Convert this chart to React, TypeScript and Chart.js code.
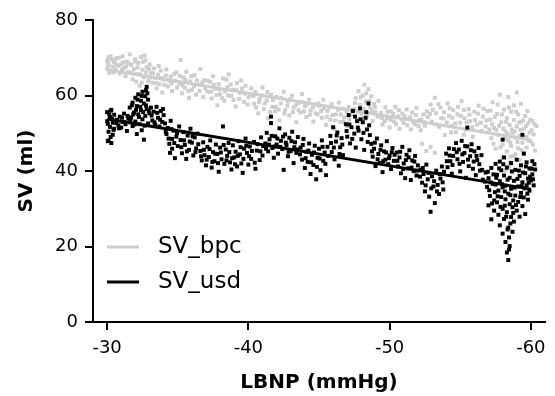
import React, { useEffect, useRef } from 'react';
import { Chart, registerables } from 'chart.js';

Chart.register(...registerables);

const lbnpTicks = [-30, -40, -50, -60];
const svTicks = [0, 20, 40, 60, 80];
const seriesNames = ['SV_bpc', 'SV_usd'];
const fitLbnp = [-30, -60];
const fitBpc = [66.8, 48.2];
const fitUsd = [53.8, 35.2];

// SV_bpc samples [LBNP, SV]
const bpcPoints: [number, number][] = [
  [-30.0,69.2],[-30.0,67.1],[-30.1,70.1],[-30.1,68.0],[-30.2,66.5],[-30.3,69.5],[-30.4,67.6],[-30.5,68.8],[-30.6,66.9],[-30.7,69.9],[-30.8,67.9],[-30.9,65.8],[-31.0,68.4],
  [-30.05,68.6],[-30.25,70.4],[-30.45,66.1],[-30.65,68.2],[-30.85,70.0],[-30.15,66.0],[-30.55,69.6],
  [-31.1,70.4],[-31.2,67.3],[-31.3,65.1],[-31.4,69.0],[-31.5,66.2],[-31.6,70.9],[-31.7,68.1],[-31.8,64.3],[-31.9,67.0],[-32.0,69.6],[-32.1,65.7],[-32.2,68.6],[-32.3,62.6],[-32.4,70.2],[-32.5,66.8],[-32.6,64.9],[-32.7,69.3],[-32.8,67.5],[-32.9,63.8],[-33.0,68.2],
  [-31.05,66.9],[-31.15,68.8],[-31.35,67.7],[-31.55,68.5],[-31.75,66.0],[-31.95,69.0],[-32.15,67.4],[-32.35,65.6],[-32.55,68.9],[-32.75,66.1],[-32.95,67.0],[-32.05,63.7],[-32.45,63.4],[-32.65,70.6],
  [-33.1,66.0],[-33.2,63.4],[-33.3,67.2],[-33.4,64.7],[-33.5,61.9],[-33.6,65.5],[-33.7,63.0],[-33.8,66.6],[-33.9,60.8],[-34.0,64.2],[-34.2,66.9],[-34.3,62.4],[-34.5,65.0],[-34.6,61.2],[-34.8,63.9],[-34.9,66.1],
  [-33.05,64.8],[-33.25,65.9],[-33.45,63.3],[-33.65,67.8],[-33.85,64.6],[-34.05,62.8],[-34.15,65.3],[-34.35,64.0],[-34.55,63.2],[-34.75,65.7],[-34.95,62.1],
  [-35.1,63.1],[-35.2,69.4],[-35.3,60.6],[-35.4,64.8],[-35.5,62.0],[-35.6,66.3],[-35.8,59.4],[-35.9,63.7],[-36.0,61.5],[-36.2,65.4],[-36.3,60.2],[-36.5,62.9],[-36.6,67.0],[-36.8,59.6],[-36.9,64.1],[-37.1,61.0],
  [-35.15,65.2],[-35.35,62.7],[-35.55,64.1],[-35.75,61.2],[-35.95,65.1],[-36.15,62.5],[-36.35,64.0],[-36.55,61.2],[-36.75,63.5],[-36.95,61.9],[-37.15,63.9],
  [-37.3,63.6],[-37.4,59.2],[-37.5,65.1],[-37.6,61.8],[-37.8,57.4],[-37.9,63.0],[-38.0,60.3],[-38.2,64.5],[-38.3,58.6],[-38.5,62.2],[-38.6,65.6],[-38.8,59.9],[-38.9,61.5],[-39.1,57.1],[-39.2,63.3],[-39.4,60.7],[-39.5,64.0],[-39.7,58.3],[-39.8,62.6],[-40.0,59.5],[-40.2,61.9],
  [-37.35,61.0],[-37.55,62.8],[-37.75,60.1],[-37.95,61.6],[-38.15,59.3],[-38.35,61.1],[-38.55,60.0],[-38.75,62.9],[-38.95,58.8],[-39.15,61.4],[-39.35,59.1],[-39.55,61.8],[-39.75,60.5],[-39.95,57.6],[-40.15,60.1],[-38.45,64.2],
  [-40.4,57.8],[-40.5,60.9],[-40.7,55.3],[-40.8,59.1],[-41.0,62.1],[-41.1,56.4],[-41.3,58.7],[-41.4,54.0],[-41.6,60.2],[-41.7,57.0],[-41.9,55.8],[-42.0,59.6],[-42.2,53.4],[-42.3,57.9],[-42.5,61.0],[-42.6,56.1],[-42.8,58.4],[-42.9,54.7],[-43.1,59.9],[-43.2,56.8],[-43.4,52.9],[-43.5,58.0],[-43.7,55.5],[-43.8,60.4],[-44.0,57.2],[-44.1,54.3],[-44.3,58.9],[-44.4,56.0],[-44.6,53.1],[-44.7,57.6],[-44.9,55.0],
  [-40.35,59.9],[-40.55,56.8],[-40.75,58.2],[-40.95,60.0],[-41.15,57.9],[-41.35,60.9],[-41.55,55.6],[-41.75,58.8],[-41.95,57.0],[-42.15,56.3],[-42.35,59.4],[-42.55,55.2],[-42.75,57.3],[-42.95,59.0],[-43.15,55.6],[-43.35,57.4],[-43.55,56.1],[-43.75,58.3],[-43.95,55.8],[-44.15,57.6],[-44.35,54.9],[-44.55,56.8],[-44.75,55.3],[-44.95,57.9],
  [-45.0,57.3],[-45.2,54.1],[-45.3,58.9],[-45.5,52.2],[-45.6,55.9],[-45.8,53.6],[-45.9,57.7],[-46.1,51.2],[-46.2,55.0],[-46.4,58.1],[-46.5,53.0],[-46.7,56.5],[-46.8,54.2],[-47.0,51.9],[-47.1,57.0],[-47.3,54.9],
  [-45.15,55.9],[-45.35,56.6],[-45.55,54.4],[-45.75,56.9],[-45.95,54.8],[-46.15,53.4],[-46.35,56.2],[-46.55,55.0],[-46.75,53.1],[-46.95,55.8],[-47.15,53.6],[-47.35,56.3],
  [-47.5,56.4],[-47.6,59.3],[-47.7,53.8],[-47.8,61.2],[-47.9,57.5],[-48.0,55.1],[-48.1,60.0],[-48.2,62.9],[-48.3,58.4],[-48.4,54.6],[-48.5,61.7],[-48.6,56.9],[-48.7,59.8],[-48.8,53.2],[-48.9,57.8],[-49.0,55.6],[-49.2,58.6],
  [-47.55,58.0],[-47.75,55.7],[-47.95,59.5],[-48.15,56.5],[-48.35,60.6],[-48.55,58.6],[-48.75,55.9],[-48.95,56.9],[-49.15,54.4],[-48.25,53.7],
  [-49.4,55.4],[-49.5,52.3],[-49.7,56.9],[-49.8,54.0],[-50.0,51.5],[-50.1,55.8],[-50.3,53.1],[-50.4,57.0],[-50.6,54.5],[-50.7,51.2],[-50.9,55.2],[-51.0,52.7],[-51.2,56.3],[-51.3,53.8],[-51.5,51.0],[-51.6,55.5],[-51.8,52.4],[-51.9,56.7],[-52.1,53.5],[-52.2,50.8],[-52.4,55.0],[-52.5,52.0],[-52.7,54.3],
  [-49.45,54.0],[-49.65,53.2],[-49.85,55.7],[-50.05,53.6],[-50.25,55.1],[-50.45,52.4],[-50.65,56.1],[-50.85,53.7],[-51.05,54.6],[-51.25,52.1],[-51.45,54.2],[-51.65,53.0],[-51.85,54.8],[-52.05,51.9],[-52.25,53.6],[-52.45,52.9],[-52.65,55.8],
  [-52.3,47.2],[-52.6,45.3],[-52.9,46.4],[-53.2,44.8],
  [-52.9,57.6],[-53.0,53.1],[-53.2,59.4],[-53.3,55.3],[-53.5,51.7],[-53.6,56.8],[-53.8,53.9],[-53.9,49.5],[-54.1,57.9],[-54.2,54.6],[-54.4,52.0],[-54.5,56.1],[-54.7,50.3],[-54.8,55.0],[-55.0,52.8],[-55.1,58.5],[-55.3,54.0],[-55.4,50.9],[-55.6,56.4],[-55.7,53.2],[-55.9,49.1],[-56.0,55.7],[-56.2,52.3],[-56.3,57.3],[-56.5,50.6],[-56.6,54.4],[-56.8,51.8],[-56.9,55.9],
  [-52.85,55.1],[-53.05,56.2],[-53.25,52.3],[-53.45,57.7],[-53.65,54.0],[-53.85,55.6],[-54.05,52.8],[-54.25,56.6],[-54.45,54.1],[-54.65,52.6],[-54.85,57.0],[-55.05,54.6],[-55.25,56.2],[-55.45,52.9],[-55.65,54.9],[-55.85,51.6],[-56.05,53.5],[-56.25,55.2],[-56.45,52.8],[-56.65,56.5],[-56.85,53.4],[-54.35,50.2],[-55.25,49.6],
  [-57.1,53.6],[-57.2,48.7],[-57.3,58.2],[-57.4,51.4],[-57.5,45.9],[-57.6,55.1],[-57.7,49.6],[-57.8,60.2],[-57.9,52.9],[-58.0,47.0],[-58.0,43.5],[-58.1,56.3],[-58.2,50.5],[-58.2,40.1],[-58.3,54.0],[-58.3,45.2],[-58.4,59.6],[-58.4,48.1],[-58.5,52.2],[-58.5,42.3],[-58.6,55.7],[-58.6,46.6],[-58.7,50.0],[-58.7,39.6],[-58.8,57.4],[-58.8,53.5],[-58.9,44.4],[-58.9,48.9],[-59.0,51.8],[-59.0,60.8],[-59.1,46.0],[-59.1,55.0],[-59.2,49.3],[-59.2,42.9],[-59.3,53.0],[-59.3,57.8],[-59.4,47.5],[-59.5,51.1],[-59.5,44.7],[-59.6,54.6],[-59.7,49.0],[-59.7,46.2],[-59.8,52.6],[-59.9,50.2],[-60.0,47.8],[-60.1,53.3],[-60.2,49.7],[-60.3,45.4],[-60.4,51.9],
  [-57.05,51.0],[-57.15,56.0],[-57.25,52.4],[-57.35,47.2],[-57.45,54.3],[-57.55,50.9],[-57.65,57.6],[-57.75,52.0],[-57.85,46.3],[-57.95,55.0],[-58.05,51.2],[-58.15,48.6],[-58.25,53.0],[-58.35,49.9],[-58.45,56.8],[-58.55,47.5],[-58.65,51.0],[-58.75,44.0],[-58.85,50.5],[-58.95,55.7],[-59.05,47.7],[-59.15,52.8],[-59.25,50.9],[-59.35,45.5],[-59.45,53.4],[-59.55,49.0],[-59.65,51.9],[-59.75,55.9],[-59.85,48.0],[-59.95,53.6],[-60.05,50.8],[-60.15,47.0],[-60.25,52.5],[-58.45,41.2],[-58.55,43.8],
];

// SV_usd samples [LBNP, SV]
const usdPoints: [number, number][] = [
  [-30.0,55.6],[-30.0,53.2],[-30.1,50.4],[-30.1,48.1],[-30.2,54.3],[-30.2,51.7],[-30.3,47.4],[-30.3,56.2],[-30.4,52.8],[-30.4,49.6],[-30.5,54.9],[-30.5,51.2],
  [-30.05,52.5],[-30.15,55.0],[-30.25,49.0],[-30.35,53.8],[-30.45,50.9],[-30.05,47.9],[-30.25,56.0],
  [-30.7,53.6],[-30.8,52.1],[-30.9,54.4],[-31.0,51.5],[-31.1,53.0],[-31.2,55.2],[-31.3,52.4],[-31.4,50.6],[-31.5,53.9],
  [-30.65,52.7],[-30.85,51.3],[-31.05,54.1],[-31.25,52.9],[-31.45,54.6],
  [-31.6,56.8],[-31.7,54.2],[-31.8,58.1],[-31.8,51.9],[-31.9,55.5],[-32.0,59.4],[-32.0,53.1],[-32.1,57.2],[-32.1,49.8],[-32.2,60.3],[-32.2,55.0],[-32.3,52.4],[-32.4,58.6],[-32.4,56.1],[-32.5,61.0],[-32.5,53.7],[-32.6,57.9],[-32.6,48.3],[-32.7,59.8],[-32.7,54.6],[-32.8,62.3],[-32.8,56.4],[-32.9,58.9],[-32.9,52.6],[-33.0,55.3],
  [-31.65,53.4],[-31.75,57.4],[-31.85,55.0],[-31.95,52.3],[-32.05,56.2],[-32.15,58.9],[-32.25,54.3],[-32.35,57.0],[-32.45,59.9],[-32.55,55.6],[-32.65,52.0],[-32.75,57.4],[-32.85,60.6],[-32.95,55.9],[-32.45,50.8],[-32.75,61.4],
  [-33.1,56.8],[-33.2,53.4],[-33.3,55.7],[-33.4,52.2],[-33.5,57.0],[-33.6,54.1],[-33.7,51.8],[-33.8,55.9],[-33.9,53.0],[-34.0,54.8],
  [-33.15,54.7],[-33.35,52.9],[-33.55,55.4],[-33.75,53.6],[-33.95,56.4],
  [-34.1,52.6],[-34.2,49.8],[-34.3,51.4],[-34.4,47.2],[-34.5,53.3],[-34.6,48.5],[-34.6,45.9],[-34.7,50.7],[-34.8,43.4],[-34.9,49.1],[-35.0,46.6],[-35.1,51.8],
  [-34.15,50.4],[-34.35,48.6],[-34.55,51.1],[-34.75,47.4],[-34.95,50.0],[-34.45,44.8],
  [-35.2,48.2],[-35.3,44.7],[-35.4,50.3],[-35.5,46.9],[-35.6,43.2],[-35.7,49.4],[-35.8,45.6],[-35.9,51.2],[-36.0,47.5],[-36.1,44.1],[-36.2,48.9],[-36.3,46.0],[-36.4,49.9],
  [-35.25,46.3],[-35.45,48.1],[-35.65,45.2],[-35.85,47.8],[-36.05,49.2],[-36.25,45.0],[-36.45,47.1],
  [-36.6,45.3],[-36.7,42.8],[-36.8,47.6],[-36.9,44.2],[-37.0,41.5],[-37.1,46.4],[-37.2,43.7],[-37.3,48.1],[-37.4,40.9],[-37.5,45.0],[-37.6,42.6],[-37.7,47.0],[-37.8,44.5],[-37.9,39.8],[-38.0,46.2],[-38.1,43.1],[-38.2,51.8],[-38.3,41.9],[-38.4,45.7],[-38.5,44.0],[-38.6,47.4],[-38.7,42.3],[-38.8,40.4],[-38.9,46.8],[-39.0,43.6],[-39.1,45.1],[-39.2,41.2],[-39.3,47.9],[-39.4,44.4],[-39.5,42.0],[-39.6,39.5],[-39.7,45.9],
  [-36.65,43.9],[-36.85,45.6],[-37.05,43.0],[-37.25,45.8],[-37.45,42.4],[-37.65,44.6],[-37.85,42.1],[-38.05,44.9],[-38.25,46.9],[-38.45,42.8],[-38.65,45.0],[-38.85,43.4],[-39.05,41.8],[-39.25,44.0],[-39.45,46.3],[-39.65,43.2],
  [-39.8,48.6],[-39.9,44.8],[-40.0,41.7],[-40.1,46.5],[-40.2,43.2],[-40.4,47.7],[-40.5,40.6],[-40.6,45.4],[-40.8,42.9],[-40.9,48.9],[-41.0,44.1],
  [-39.85,46.7],[-40.05,43.9],[-40.25,45.3],[-40.45,42.2],[-40.65,47.1],[-40.85,45.2],[-41.05,46.6],
  [-41.2,47.3],[-41.3,50.1],[-41.4,45.2],[-41.5,48.4],[-41.6,52.7],[-41.7,46.1],[-41.8,43.5],[-41.9,49.2],[-42.0,47.0],[-42.1,44.6],[-42.2,51.3],[-42.3,48.0],[-42.4,45.8],[-42.5,40.3],[-42.6,49.7],[-42.7,46.9],[-42.8,43.9],[-42.9,48.8],[-43.0,45.3],[-43.1,50.4],[-43.2,42.1],[-43.3,47.6],[-43.4,44.8],[-43.5,49.0],
  [-41.25,45.9],[-41.45,47.0],[-41.65,49.3],[-41.85,46.5],[-42.05,48.6],[-42.25,46.4],[-42.45,49.1],[-42.65,47.5],[-42.85,45.1],[-43.05,47.9],[-43.25,46.3],[-43.45,45.7],
  [-43.7,46.2],[-43.8,43.0],[-43.9,48.5],[-44.0,40.8],[-44.1,45.1],[-44.2,42.4],[-44.3,47.3],[-44.4,39.2],[-44.5,44.3],[-44.6,41.6],[-44.7,46.7],[-44.8,37.8],[-44.9,43.5],[-45.0,45.9],[-45.1,40.2],[-45.2,48.1],[-45.3,42.7],[-45.4,44.9],[-45.5,38.9],[-45.6,46.4],
  [-43.65,44.4],[-43.85,46.9],[-44.05,43.4],[-44.25,45.4],[-44.45,42.3],[-44.65,44.9],[-44.85,41.1],[-45.05,43.3],[-45.25,46.4],[-45.45,41.9],[-45.65,44.0],
  [-45.8,49.3],[-45.9,45.0],[-46.0,51.6],[-46.1,43.1],[-46.2,47.8],[-46.3,50.2],[-46.4,41.4],[-46.5,46.3],[-46.6,48.7],[-46.7,44.2],
  [-45.85,47.4],[-46.05,46.2],[-46.25,49.4],[-46.45,44.5],[-46.65,47.0],
  [-46.9,52.4],[-47.0,49.1],[-47.1,54.8],[-47.2,47.3],[-47.3,51.6],[-47.4,55.9],[-47.5,49.9],[-47.6,46.2],[-47.7,53.2],[-47.8,50.7],[-47.9,56.6],[-48.0,48.4],[-48.1,52.9],[-48.2,45.6],[-48.3,54.1],[-48.4,51.0],[-48.5,57.9],[-48.6,49.5],
  [-46.95,50.6],[-47.15,52.3],[-47.35,48.5],[-47.55,54.4],[-47.75,51.5],[-47.95,53.7],[-48.15,50.1],[-48.35,55.6],[-48.55,52.1],[-48.45,47.7],
  [-48.7,47.2],[-48.8,43.8],[-48.9,45.9],[-49.0,41.3],[-49.1,48.6],[-49.2,44.5],[-49.3,42.1],[-49.4,46.8],[-49.5,39.7],[-49.6,45.2],[-49.7,43.0],[-49.8,47.9],[-49.9,41.8],[-50.0,44.1],[-50.1,40.5],[-50.2,46.1],[-50.3,42.7],
  [-48.75,45.2],[-48.95,47.5],[-49.15,43.1],[-49.35,45.6],[-49.55,42.6],[-49.75,44.9],[-49.95,43.4],[-50.15,45.0],[-50.35,44.3],
  [-50.5,44.9],[-50.6,41.2],[-50.7,43.6],[-50.8,39.4],[-50.9,46.4],[-51.0,42.0],[-51.1,38.1],[-51.2,44.3],[-51.3,40.7],[-51.4,45.5],[-51.5,37.6],[-51.6,42.8],[-51.7,40.0],[-51.8,44.0],[-51.9,38.8],[-52.0,41.5],
  [-50.55,42.7],[-50.75,45.1],[-50.95,40.5],[-51.15,42.9],[-51.35,43.6],[-51.55,40.9],[-51.75,42.5],[-51.95,40.1],
  [-52.2,40.4],[-52.3,36.9],[-52.4,39.2],[-52.5,34.6],[-52.6,41.7],[-52.7,37.8],[-52.8,33.2],[-52.9,29.2],[-53.0,38.6],[-53.1,35.9],[-53.2,31.5],[-53.3,40.1],[-53.4,36.3],[-53.5,33.9],[-53.6,38.0],[-53.7,41.2],[-53.8,35.1],
  [-52.15,38.5],[-52.35,40.8],[-52.55,36.2],[-52.75,39.5],[-52.95,35.4],[-53.15,37.3],[-53.35,34.6],[-53.55,39.2],[-53.75,37.0],[-53.85,39.8],
  [-54.0,44.6],[-54.1,41.0],[-54.2,46.0],[-54.3,42.6],[-54.4,39.3],[-54.5,44.0],
  [-54.05,42.6],[-54.25,44.1],[-54.45,41.6],[-54.55,45.8],
  [-54.7,47.4],[-54.8,43.1],[-54.9,45.7],[-55.0,39.9],[-55.1,48.0],[-55.2,42.4],[-55.3,44.8],[-55.4,38.2],[-55.5,46.5],[-55.6,41.3],[-55.7,43.9],[-55.8,47.1],[-55.9,40.6],[-56.0,45.2],[-56.1,38.9],[-56.2,42.9],[-56.3,46.1],[-56.4,40.1],[-56.5,44.2],[-56.6,37.7],
  [-54.75,45.0],[-54.95,41.9],[-55.15,44.4],[-55.35,46.6],[-55.55,43.0],[-55.75,45.5],[-55.95,42.5],[-56.15,44.0],[-56.35,41.8],[-56.55,40.3],
  [-56.8,39.6],[-56.9,35.8],[-57.0,30.9],[-57.0,38.1],[-57.1,33.4],[-57.2,27.2],[-57.2,40.8],[-57.3,36.6],[-57.4,32.2],[-57.4,29.5],
  [-56.75,37.2],[-56.95,39.8],[-57.05,34.9],[-57.15,37.0],[-57.25,31.4],[-57.35,39.1],[-57.45,34.4],
  [-57.5,41.9],[-57.5,36.4],[-57.6,39.0],[-57.6,31.7],[-57.7,34.8],[-57.7,28.4],[-57.8,42.5],[-57.8,37.3],[-57.8,25.6],[-57.9,33.1],[-57.9,40.2],[-58.0,30.0],[-58.0,35.7],[-58.0,23.4],[-58.1,38.8],[-58.1,27.3],[-58.1,43.6],[-58.2,32.5],[-58.2,21.2],[-58.2,36.1],[-58.3,29.1],[-58.3,18.4],[-58.3,40.9],[-58.4,34.0],[-58.4,25.0],[-58.4,16.4],[-58.5,31.2],[-58.5,38.2],[-58.5,20.1],[-58.6,27.8],[-58.6,35.3],[-58.6,42.1],[-58.7,23.9],[-58.7,30.4],[-58.8,37.4],[-58.8,26.6],[-58.9,33.5],[-58.9,40.3],[-59.0,29.5],[-59.0,43.0],[-59.1,35.9],[-59.1,31.8],[-59.2,38.7],[-59.2,27.9],[-59.3,41.5],[-59.3,34.2],[-59.4,30.7],[-59.4,37.0],[-59.5,44.6],[-59.5,33.0],[-59.6,39.4],[-59.6,28.6],[-59.7,36.2],[-59.7,42.3],[-59.8,32.4],[-59.8,38.0],[-59.9,34.8],[-59.9,40.7],
  [-57.55,38.2],[-57.65,33.3],[-57.75,40.7],[-57.85,30.5],[-57.95,36.5],[-58.05,41.8],[-58.15,34.6],[-58.25,27.9],[-58.35,37.7],[-58.45,22.4],[-58.55,33.6],[-58.65,39.9],[-58.75,28.9],[-58.85,35.6],[-58.95,31.0],[-59.05,37.9],[-59.15,40.1],[-59.25,33.1],[-59.35,36.0],[-59.45,39.6],[-59.55,35.4],[-59.65,41.2],[-59.75,34.0],[-59.85,36.9],[-59.95,38.5],[-58.35,24.5],[-58.45,19.2],[-58.15,30.8],[-58.55,26.1],[-58.75,32.2],
  [-60.0,37.5],[-60.1,42.6],[-60.1,39.1],[-60.2,36.2],[-60.3,40.4],
  [-60.05,40.6],[-60.15,37.8],[-60.25,41.8],
  [-41.6,54.4],[-55.5,51.5],[-58.0,48.3],[-59.4,49.6],
];

const GRAY = '#cdcdcd';
const BLACK = '#000000';
const FONT = 'DejaVu Sans';

const legendPlugin = {
  id: 'insideLegend',
  afterDraw(chart: any) {
    const ctx = chart.ctx as CanvasRenderingContext2D;
    const colors = [GRAY, BLACK];
    const rowsY = [247, 282];
    ctx.save();
    seriesNames.forEach((name, i) => {
      const y = rowsY[i];
      ctx.strokeStyle = colors[i];
      ctx.lineWidth = 3;
      ctx.beginPath();
      ctx.moveTo(107, y);
      ctx.lineTo(139, y);
      ctx.stroke();
      ctx.fillStyle = '#000';
      ctx.font = `23px "${FONT}"`;
      ctx.textBaseline = 'middle';
      ctx.textAlign = 'left';
      ctx.fillText(name, 158, y);
    });
    ctx.restore();
  },
};

export default function App() {
  const ref = useRef<HTMLCanvasElement>(null);
  useEffect(() => {
    if (!ref.current) return;
    const chart = new Chart(ref.current, {
      type: 'scatter',
      data: {
        datasets: [
          {
            label: seriesNames[1] + ' fit',
            data: fitLbnp.map((x, i) => ({ x, y: fitUsd[i] })),
            showLine: true,
            borderColor: BLACK,
            borderWidth: 3,
            pointRadius: 0,
            order: 0,
          } as any,
          {
            label: seriesNames[1],
            data: usdPoints.map(([x, y]) => ({ x, y })),
            pointStyle: 'rect',
            pointRadius: 2.8,
            borderWidth: 0,
            backgroundColor: BLACK,
            order: 1,
          },
          {
            label: seriesNames[0] + ' fit',
            data: fitLbnp.map((x, i) => ({ x, y: fitBpc[i] })),
            showLine: true,
            borderColor: GRAY,
            borderWidth: 3,
            pointRadius: 0,
            order: 2,
          } as any,
          {
            label: seriesNames[0],
            data: bpcPoints.map(([x, y]) => ({ x, y })),
            pointStyle: 'rect',
            pointRadius: 2.8,
            borderWidth: 0,
            backgroundColor: GRAY,
            order: 3,
          },
        ],
      },
      options: {
        animation: false,
        responsive: false,
        maintainAspectRatio: false,
        layout: { padding: { left: 0, right: 10, top: 20, bottom: 0 } },
        plugins: { legend: { display: false }, tooltip: { enabled: false } },
        scales: {
          x: {
            type: 'linear',
            reverse: true,
            min: -61,
            max: -29,
            afterBuildTicks: (s: any) => {
              s.ticks = lbnpTicks.map((v) => ({ value: v }));
            },
            afterFit: (s: any) => {
              s.height = 74;
            },
            grid: { drawOnChartArea: false, drawTicks: true, tickLength: 8, color: '#000', lineWidth: 2 },
            border: { display: true, color: '#000', width: 2 },
            ticks: { color: '#000', font: { family: FONT, size: 18 }, padding: 8, maxRotation: 0 },
            title: {
              display: true,
              text: 'LBNP (mmHg)',
              color: '#000',
              font: { family: FONT, size: 20, weight: 'bold' },
              padding: { top: 0, bottom: 1 },
            },
          },
          y: {
            type: 'linear',
            min: 0,
            max: 80,
            afterBuildTicks: (s: any) => {
              s.ticks = svTicks.map((v) => ({ value: v }));
            },
            afterFit: (s: any) => {
              s.width = 93;
            },
            grid: { drawOnChartArea: false, drawTicks: true, tickLength: 8, color: '#000', lineWidth: 2 },
            border: { display: true, color: '#000', width: 2 },
            ticks: { color: '#000', font: { family: FONT, size: 18 }, padding: 7 },
            title: {
              display: true,
              text: 'SV (ml)',
              color: '#000',
              font: { family: FONT, size: 20, weight: 'bold' },
              padding: { top: 15, bottom: 0 },
            },
          },
        },
      },
      plugins: [legendPlugin],
    });
    return () => chart.destroy();
  }, []);
  return (
    <div style={{ position: 'fixed', left: 0, top: 0, width: 555, height: 396, background: '#fff' }}>
      <canvas ref={ref} width={555} height={396} />
    </div>
  );
}
